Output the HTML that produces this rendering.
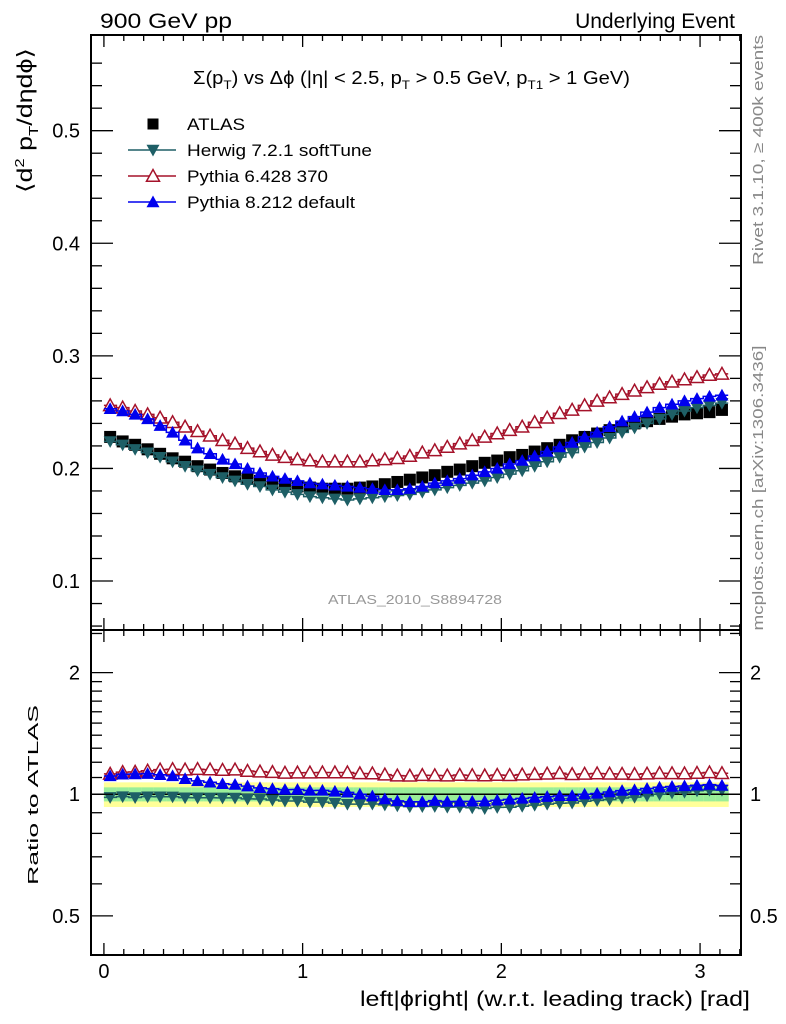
<!DOCTYPE html>
<html><head><meta charset="utf-8">
<style>
html,body{margin:0;padding:0;background:#fff;}
svg{display:block;font-family:"Liberation Sans",sans-serif;}
</style></head>
<body>
<svg id="chart" width="786" height="1024" viewBox="0 0 786 1024">
  <text x="100" y="28" font-size="21" textLength="132" lengthAdjust="spacingAndGlyphs">900 GeV pp</text>
  <text x="735" y="28" font-size="21" text-anchor="end">Underlying Event</text>
  <text x="193" y="84" font-size="18" textLength="437" lengthAdjust="spacingAndGlyphs">Σ(p<tspan font-size="12" dy="5">T</tspan><tspan dy="-5">) vs Δϕ (|η| &lt; 2.5, p</tspan><tspan font-size="12" dy="5">T</tspan><tspan dy="-5"> &gt; 0.5 GeV, p</tspan><tspan font-size="12" dy="5">T1</tspan><tspan dy="-5"> &gt; 1 GeV)</tspan></text>
  <text transform="translate(32,48) rotate(-90)" font-size="21" text-anchor="end" textLength="145" lengthAdjust="spacingAndGlyphs">⟨d<tspan font-size="13" dy="-8">2</tspan><tspan dy="8"> p</tspan><tspan font-size="13" dy="6">T</tspan><tspan dy="-6">/dηdϕ⟩</tspan></text>
  <text transform="translate(38,795) rotate(-90)" font-size="15" text-anchor="middle" textLength="180" lengthAdjust="spacingAndGlyphs">Ratio to ATLAS</text>
  <text x="750" y="1006" font-size="21" text-anchor="end" textLength="390" lengthAdjust="spacingAndGlyphs">left|ϕright| (w.r.t. leading track) [rad]</text>
  <text transform="translate(763,150) rotate(-90)" font-size="15" fill="#888" text-anchor="middle" textLength="230" lengthAdjust="spacingAndGlyphs">Rivet 3.1.10, ≥ 400k events</text>
  <text transform="translate(763,488) rotate(-90)" font-size="15" fill="#888" text-anchor="middle" textLength="285" lengthAdjust="spacingAndGlyphs">mcplots.cern.ch [arXiv:1306.3436]</text>
  <text x="415" y="604" font-size="13" fill="#999" text-anchor="middle" textLength="174" lengthAdjust="spacingAndGlyphs">ATLAS_2010_S8894728</text>
  <g id="bands"></g>
  <g id="series"></g>
  <g id="axes"></g>
  <g id="legend"></g>
</svg>
<script>
const binCount = 50;
const xMax = Math.PI;
const atlas = [0.228,0.224,0.221,0.217,0.213,0.209,0.206,0.202,0.199,0.196,0.193,0.191,0.189,0.187,0.186,0.184,0.183,0.182,0.182,0.182,0.183,0.184,0.186,0.188,0.190,0.192,0.194,0.197,0.199,0.202,0.205,0.207,0.210,0.212,0.215,0.218,0.221,0.225,0.228,0.231,0.234,0.237,0.240,0.242,0.244,0.246,0.248,0.249,0.250,0.252];
const herwig = [0.224,0.221,0.217,0.214,0.210,0.206,0.202,0.198,0.195,0.192,0.189,0.186,0.184,0.181,0.179,0.177,0.175,0.174,0.173,0.172,0.173,0.174,0.175,0.176,0.177,0.179,0.181,0.183,0.185,0.187,0.189,0.192,0.195,0.198,0.202,0.206,0.210,0.214,0.219,0.223,0.227,0.232,0.236,0.240,0.244,0.248,0.251,0.254,0.256,0.258];
const pythia6 = [0.256,0.254,0.251,0.248,0.245,0.241,0.237,0.233,0.229,0.225,0.222,0.218,0.215,0.212,0.210,0.208,0.207,0.206,0.206,0.206,0.206,0.207,0.208,0.209,0.211,0.214,0.216,0.219,0.222,0.225,0.228,0.231,0.234,0.237,0.241,0.245,0.249,0.252,0.256,0.260,0.263,0.266,0.269,0.272,0.275,0.277,0.279,0.281,0.283,0.284];
const pythia8 = [0.253,0.251,0.248,0.244,0.238,0.232,0.225,0.218,0.213,0.208,0.204,0.200,0.196,0.193,0.191,0.189,0.187,0.186,0.185,0.184,0.183,0.182,0.181,0.181,0.182,0.184,0.187,0.189,0.191,0.194,0.197,0.200,0.204,0.207,0.211,0.215,0.219,0.223,0.228,0.232,0.237,0.242,0.246,0.250,0.254,0.257,0.260,0.262,0.264,0.265];
const xTicks = [0,1,2,3];
const yTicks = [0.1,0.2,0.3,0.4,0.5];
const ratioTicks = [0.5,1,2];
const ratioTickLabels = ["0.5","1","2"];

const NS="http://www.w3.org/2000/svg";
const L=91,R=741,T=35,MB=630,RB=955;
const X0=-0.065,X1=3.206, Y0=0.0565,Y1=0.585, RL=Math.log(0.40),RH=Math.log(2.55);
const sx=v=>L+(v-X0)/(X1-X0)*(R-L);
const sy=v=>MB-(v-Y0)/(Y1-Y0)*(MB-T);
const sr=v=>RB-(Math.log(v)-RL)/(RH-RL)*(RB-MB);
const w=xMax/binCount;
const xc=i=>(i+0.5)*w;
function mk(tag,attrs,parent){const e=document.createElementNS(NS,tag);for(const k in attrs)e.setAttribute(k,attrs[k]);parent.appendChild(e);return e;}
const bands=document.getElementById('bands'),ser=document.getElementById('series'),ax=document.getElementById('axes'),leg=document.getElementById('legend');

for(let i=0;i<binCount;i++){
  const a=sx(i*w),b=sx((i+1)*w);
  const y=mk('rect',{x:a,y:sr(1.07),width:b-a+0.5,height:sr(0.93)-sr(1.07),fill:'#ffff99'},bands);
  
  
  const g=mk('rect',{x:a,y:sr(1.04),width:b-a+0.5,height:sr(0.96)-sr(1.04),fill:'#99ee99'},bands);
  
  
}
const one=mk('line',{x1:L,x2:R,y1:sr(1),y2:sr(1),stroke:'#000','stroke-width':1.5},bands);



function marker(type,color,x,y,parent,s){
  let e;
  if(type==='sq') e=mk('rect',{x:x-s,y:y-s,width:2*s,height:2*s,fill:color},parent);
  else if(type==='down') e=mk('polygon',{points:`${x-s},${y-s*0.8} ${x+s},${y-s*0.8} ${x},${y+s*1.0}`,fill:color},parent);
  else if(type==='up') e=mk('polygon',{points:`${x-s},${y+s*0.8} ${x+s},${y+s*0.8} ${x},${y-s*1.0}`,fill:color},parent);
  else e=mk('polygon',{points:`${x-s},${y+s*0.8} ${x+s},${y+s*0.8} ${x},${y-s*1.0}`,fill:'#fff',stroke:color,'stroke-width':1.5},parent);
  return e;
}
function drawSeries(vals,color,type,name,ratio,line){
  const pts=[],rpts=[];
  for(let i=0;i<binCount;i++){
    pts.push([sx(xc(i)),sy(vals[i])]);
    rpts.push([sx(xc(i)),sr(vals[i]/atlas[i])]);
  }
  if(line){
    let d='',rd='';
    for(let i=0;i<binCount;i++){
      const a=sx(i*w),b=sx((i+1)*w);
      d+=(i?'L':'M')+a+','+sy(vals[i])+'L'+b+','+sy(vals[i]);
      rd+=(i?'L':'M')+a+','+sr(vals[i]/atlas[i])+'L'+b+','+sr(vals[i]/atlas[i]);
    }
    const p=mk('path',{d:d,fill:'none',stroke:color,'stroke-width':1.5},ser);
    
    
    const rp=mk('path',{d:rd,fill:'none',stroke:color,'stroke-width':1.5},ser);
    
    
  }
  pts.forEach(p=>{const m=marker(type,color,p[0],p[1],ser,type==='sq'?6:6.5);
    
    });
  if(ratio) rpts.forEach(p=>{const m=marker(type,color,p[0],p[1],ser,6.5);
    
    });
}
drawSeries(atlas,'#000','sq','atlas',false,false);
drawSeries(pythia6,'#a5122a','open','pythia6',true,true);
drawSeries(herwig,'#1e5f66','down','herwig',true,true);
drawSeries(pythia8,'#0000ee','up','pythia8',true,true);

[[T,MB],[MB,RB]].forEach((f,k)=>{
  const r=mk('rect',{x:L,y:f[0],width:R-L,height:f[1]-f[0],fill:'none',stroke:'#000','stroke-width':2},ax);
  
  
});
for(let v=0;v<=3.2001;v+=0.1){
  const major=Math.abs(v-Math.round(v))<1e-6;
  const len=major?12:6;
  [[T,1],[MB,-1],[MB,1],[RB,-1]].forEach(([y,dir])=>{
    mk('line',{x1:sx(v),x2:sx(v),y1:y,y2:y+dir*len,stroke:'#000','stroke-width':1.3},ax);
  });
}
xTicks.forEach(v=>{const t=mk('text',{x:sx(v),y:978,'font-size':20,'text-anchor':'middle'},ax);t.textContent=v;
  
  });
for(let v=0.06;v<=0.58;v+=0.02){
  const major=Math.abs(v*10-Math.round(v*10))<1e-6;
  const len=major?22:11;
  mk('line',{x1:L,x2:L+len,y1:sy(v),y2:sy(v),stroke:'#000','stroke-width':1.3},ax);
  mk('line',{x1:R,x2:R-len,y1:sy(v),y2:sy(v),stroke:'#000','stroke-width':1.3},ax);
}
yTicks.forEach(v=>{const t=mk('text',{x:80,y:sy(v)+7,'font-size':20,'text-anchor':'end'},ax);t.textContent=v.toFixed(1);
  
  });
for(const v of [0.4,0.5,0.6,0.7,0.8,0.9,1,1.1,1.2,1.3,1.4,1.5,1.6,1.7,1.8,1.9,2,2.5]){
  const major=ratioTicks.includes(v);
  const len=major?22:11;
  mk('line',{x1:L,x2:L+len,y1:sr(v),y2:sr(v),stroke:'#000','stroke-width':1.3},ax);
  mk('line',{x1:R,x2:R-len,y1:sr(v),y2:sr(v),stroke:'#000','stroke-width':1.3},ax);
}
ratioTicks.forEach((v,i)=>{
  const t=mk('text',{x:80,y:sr(v)+7,'font-size':20,'text-anchor':'end'},ax);t.textContent=ratioTickLabels[i];
  
  
  const t2=mk('text',{x:750,y:sr(v)+7,'font-size':20},ax);t2.textContent=ratioTickLabels[i];
  
  
});
const entries=[['ATLAS','#000','sq',false,58],['Herwig 7.2.1 softTune','#1e5f66','down',true,185],['Pythia 6.428 370','#a5122a','open',true,141],['Pythia 8.212 default','#0000ee','up',true,168]];
entries.forEach((e,i)=>{
  const y=124+i*26;
  const g=mk('g',{},leg);
  
  
  if(e[3]) mk('line',{x1:128,x2:176,y1:y,y2:y,stroke:e[1],'stroke-width':1.5},g);
  marker(e[2],e[1],153,y,g,e[2]==='sq'?5.5:6.5);
  const t=mk('text',{x:187,y:y+6,'font-size':17,textLength:e[4],lengthAdjust:'spacingAndGlyphs'},g);t.textContent=e[0];
});
</script>
</body></html>
